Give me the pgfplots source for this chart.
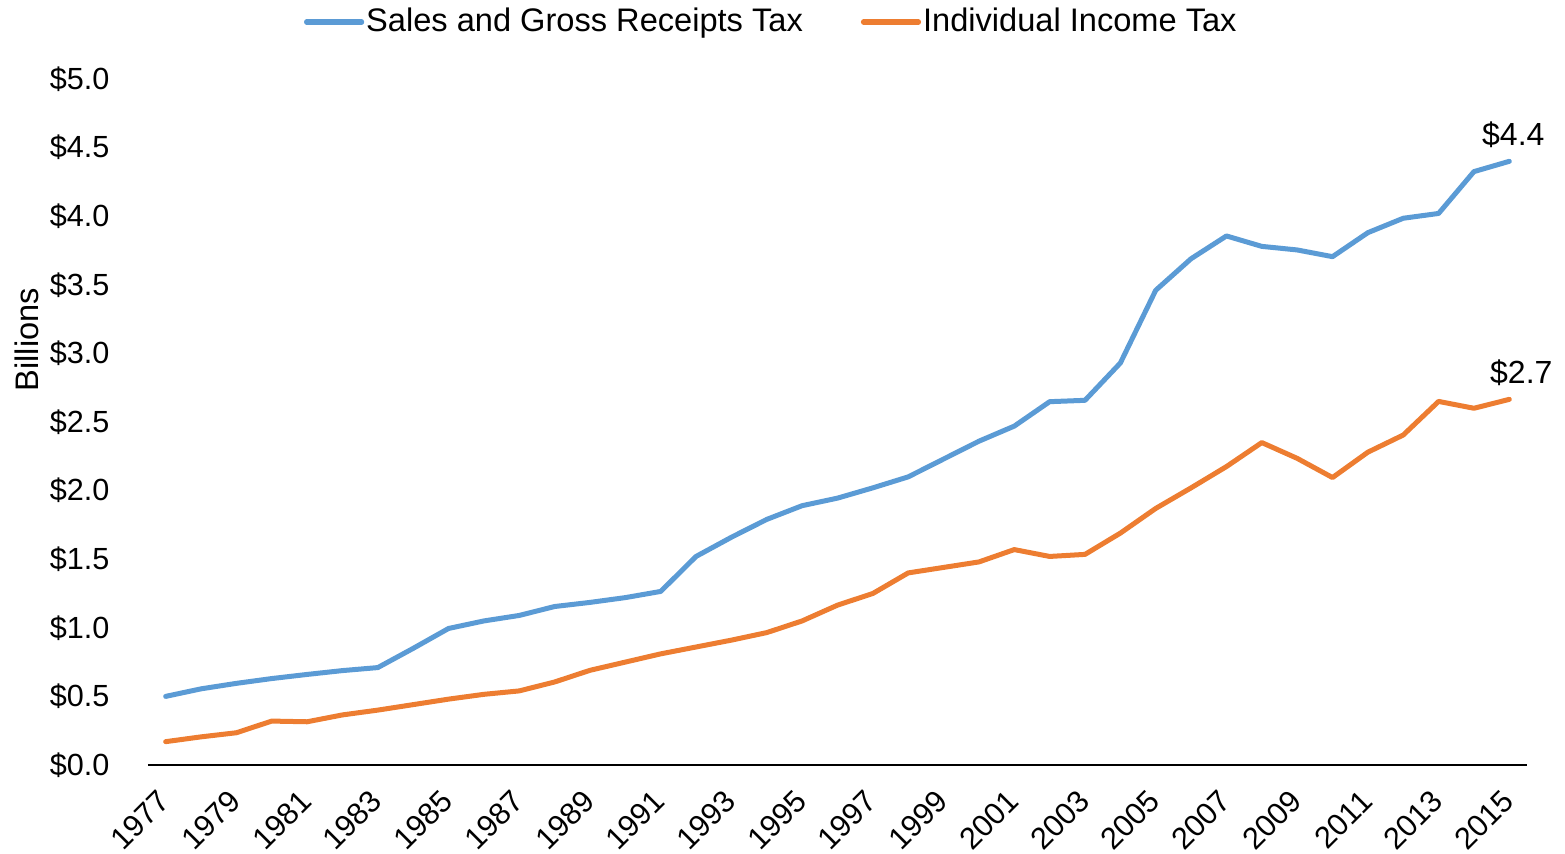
\documentclass[border=0pt]{standalone}
\usepackage{fontspec}
\setmainfont{Liberation Sans}
\usepackage{pgfplots}
\pgfplotsset{compat=1.18}
\definecolor{cblue}{HTML}{5B9BD5}
\definecolor{corange}{HTML}{ED7D31}
\begin{document}
\fontsize{15.3}{18}\selectfont
\begin{tikzpicture}
\begin{axis}[name=ax, scale only axis, width=689.5pt, height=343pt,
  xmin=1976.5, xmax=2015.5, ymin=0, ymax=5,
  xtick={1977,1979,...,2015},
  ytick={0,0.5,1,1.5,2,2.5,3,3.5,4,4.5,5},
  /pgf/number format/assume math mode=true,
  font=\fontsize{15.3}{18}\selectfont,
  xticklabel={\pgfmathprintnumber[set thousands separator={},fixed,precision=0]{\tick}},
  yticklabel={\$\pgfmathprintnumber[fixed,fixed zerofill,precision=1]{\tick}},
  xticklabel style={xshift=-0.5pt, yshift=-15.5pt, rotate=45, anchor=east, inner sep=0pt},
  yticklabel style={xshift=-14pt},
  axis x line*=bottom, axis y line*=left,
  x axis line style={black, line width=1pt, -},
  y axis line style={draw=none},
  tick style={draw=none},
  ylabel={Billions},
  ylabel style={at={(axis description cs:-0.088,0.62)}, anchor=center, font=\fontsize{16.3}{19}\selectfont},
  legend style={at={(axis description cs:0.452,1.083)}, anchor=center, draw=none, fill=none,
    legend columns=2, /tikz/every even column/.append style={column sep=28pt},
    nodes={inner sep=1pt}, font=\fontsize{16.3}{19}\selectfont},
  legend image code/.code={\draw[#1, line width=2.6pt] (0pt,0pt) -- (27.5pt,0pt);},
  clip=false,
]
\addplot[cblue, line width=2.5pt, line join=round, line cap=round] coordinates {
(1977,0.50) (1978,0.555) (1979,0.595) (1980,0.63) (1981,0.66) (1982,0.688) (1983,0.71)
(1984,0.85) (1985,0.995) (1986,1.05) (1987,1.09) (1988,1.155) (1989,1.185) (1990,1.22)
(1991,1.265) (1992,1.52) (1993,1.66) (1994,1.79) (1995,1.89) (1996,1.945) (1997,2.02)
(1998,2.10) (1999,2.23) (2000,2.36) (2001,2.47) (2002,2.648) (2003,2.658) (2004,2.93)
(2005,3.46) (2006,3.69) (2007,3.856) (2008,3.78) (2009,3.754) (2010,3.705) (2011,3.88)
(2012,3.985) (2013,4.02) (2014,4.325) (2015,4.40)
};
\addlegendentry{Sales and Gross Receipts Tax}
\addplot[corange, line width=2.5pt, line join=round, line cap=round] coordinates {
(1977,0.17) (1978,0.205) (1979,0.235) (1980,0.32) (1981,0.315) (1982,0.365) (1983,0.40)
(1984,0.44) (1985,0.48) (1986,0.515) (1987,0.54) (1988,0.605) (1989,0.69) (1990,0.75)
(1991,0.81) (1992,0.86) (1993,0.91) (1994,0.965) (1995,1.05) (1996,1.165) (1997,1.25)
(1998,1.40) (1999,1.44) (2000,1.48) (2001,1.57) (2002,1.52) (2003,1.535) (2004,1.69)
(2005,1.87) (2006,2.02) (2007,2.175) (2008,2.35) (2009,2.235) (2010,2.095) (2011,2.28)
(2012,2.405) (2013,2.65) (2014,2.60) (2015,2.665)
};
\addlegendentry{Individual Income Tax}
\node[anchor=south, inner sep=0pt, font=\fontsize{16}{19}\selectfont] at ([xshift=2pt,yshift=6.5pt]axis cs:2015,4.40) {\$4.4};
\node[anchor=south, inner sep=0pt, font=\fontsize{16}{19}\selectfont] at ([xshift=6pt,yshift=6.5pt]axis cs:2015,2.665) {\$2.7};
\end{axis}
\pgfresetboundingbox
\path (ax.south west) ++(-74pt,-44.5pt) rectangle ++(782.5pt,427pt);
\end{tikzpicture}
\end{document}
